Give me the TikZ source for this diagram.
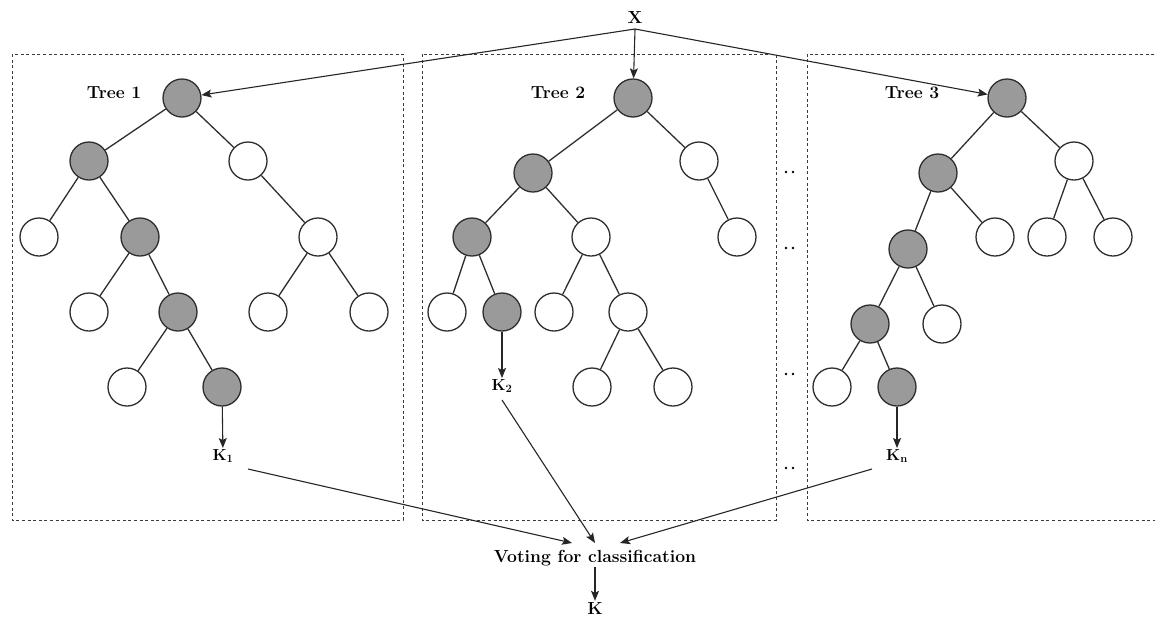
\documentclass[tikz,border=0pt]{standalone}
\usetikzlibrary{arrows.meta}
\definecolor{nodegray}{HTML}{9A9A9A}
\definecolor{ink}{HTML}{2E2E2E}
\definecolor{boxink}{HTML}{3A3A3A}
\begin{document}
\begin{tikzpicture}[x=1pt,y=-1pt,
  tnode/.style={circle,draw=ink,line width=1.3pt,minimum size=38pt,inner sep=0pt},
  gnode/.style={tnode,fill=nodegray},
  wnode/.style={tnode,fill=white},
  edge/.style={draw=ink,line width=1.3pt},
  arr/.style={draw=black!85,line width=1.1pt,-{Stealth[length=10pt,width=8pt,inset=2pt]}},
  frame/.style={draw=boxink,line width=0.9pt,dash pattern=on 3pt off 2.6pt},
  lbl/.style={font=\fontsize{17.5}{21}\selectfont\bfseries,inner sep=1pt},
  klbl/.style={font=\fontsize{16}{19}\selectfont\bfseries,inner sep=1pt},
  dot/.style={circle,fill=black,inner sep=0pt,minimum size=2.6pt}]
\useasboundingbox (0,0) rectangle (1155,619);

% dashed frames around the trees
\draw[frame] (12,54) rectangle (403,520);
\draw[frame] (422,54) rectangle (776,520);
\draw[frame] (1160,54) -- (807,54) -- (807,520) -- (1160,520);

% ellipsis marks between the frames
\foreach \yy [count=\i] in {172,248,374,468} {
  \node[dot] (dl\i) at (786,\yy) {};
  \node[dot] (dr\i) at (793,\yy) {};
}

% input
\node[lbl] (x) at (635,17) {X};

% ---- Tree 1 ----
\node[lbl] (t1) at (114,93) {Tree 1};
\node[gnode] (a1) at (182,98) {};
\node[gnode] (a2) at (89,161) {};
\node[wnode] (a3) at (248,161) {};
\node[wnode] (a4) at (39,237) {};
\node[gnode] (a5) at (140,237) {};
\node[wnode] (a6) at (89,312) {};
\node[gnode] (a7) at (178,312) {};
\node[wnode] (a8) at (127,387) {};
\node[gnode] (a9) at (222,387) {};
\node[wnode] (a10) at (318,237) {};
\node[wnode] (a11) at (268,312) {};
\node[wnode] (a12) at (369,312) {};
\node[klbl] (k1) at (223,456) {K\textsubscript{1}};
\foreach \p/\c in {a1/a2,a1/a3,a2/a4,a2/a5,a5/a6,a5/a7,a7/a8,a7/a9,a3/a10,a10/a11,a10/a12}
  \draw[edge] (\p) -- (\c);
\draw[arr] (a9) -- (k1);

% ---- Tree 2 ----
\node[lbl] (t2) at (558,93) {Tree 2};
\node[gnode] (b1) at (633,98) {};
\node[gnode] (b2) at (533,173) {};
\node[wnode] (b3) at (699,161) {};
\node[gnode] (b4) at (472,237) {};
\node[wnode] (b5) at (591,237) {};
\node[wnode] (b6) at (737,237) {};
\node[wnode] (b7) at (447,312) {};
\node[gnode] (b8) at (502,312) {};
\node[wnode] (b9) at (554,312) {};
\node[wnode] (b10) at (628,312) {};
\node[wnode] (b11) at (592,387) {};
\node[wnode] (b12) at (673,387) {};
\node[klbl] (k2) at (502,386) {K\textsubscript{2}};
\foreach \p/\c in {b1/b2,b1/b3,b3/b6,b2/b4,b2/b5,b4/b7,b4/b8,b5/b9,b5/b10,b10/b11,b10/b12}
  \draw[edge] (\p) -- (\c);
\draw[arr] (b8) -- (k2);

% ---- Tree 3 ----
\node[lbl] (t3) at (912,93) {Tree 3};
\node[gnode] (c1) at (1007,98) {};
\node[gnode] (c2) at (938,173) {};
\node[wnode] (c3) at (1074,161) {};
\node[gnode] (c4) at (908,249) {};
\node[wnode] (c5) at (995,237) {};
\node[wnode] (c6) at (1047,237) {};
\node[wnode] (c7) at (1113,237) {};
\node[gnode] (c8) at (870,324) {};
\node[wnode] (c9) at (942,324) {};
\node[wnode] (c10) at (832,387) {};
\node[gnode] (c11) at (897,387) {};
\node[klbl] (kn) at (897,456) {K\textsubscript{n}};
\foreach \p/\c in {c1/c2,c1/c3,c2/c4,c2/c5,c3/c6,c3/c7,c4/c8,c4/c9,c8/c10,c8/c11}
  \draw[edge] (\p) -- (\c);
\draw[arr] (c11) -- (kn);

% input fans out to every root
\coordinate (xo) at (635,29);
\draw[arr] (xo) -- (a1);
\draw[arr] (xo) -- (b1);
\draw[arr] (xo) -- (c1);

% votes
\node[lbl] (vote) at (595,558) {Voting for classification};
\node[lbl] (k) at (595,608) {K};
\coordinate (k1o) at (248,469);
\coordinate (k2o) at (502,400);
\coordinate (kno) at (872,469);
\coordinate (v1) at (572,543);
\coordinate (v2) at (595,543);
\coordinate (v3) at (620,543);
\draw[arr] (k1o) -- (v1);
\draw[arr] (k2o) -- (v2);
\draw[arr] (kno) -- (v3);
\draw[arr] (vote) -- (k);
\end{tikzpicture}
\end{document}
